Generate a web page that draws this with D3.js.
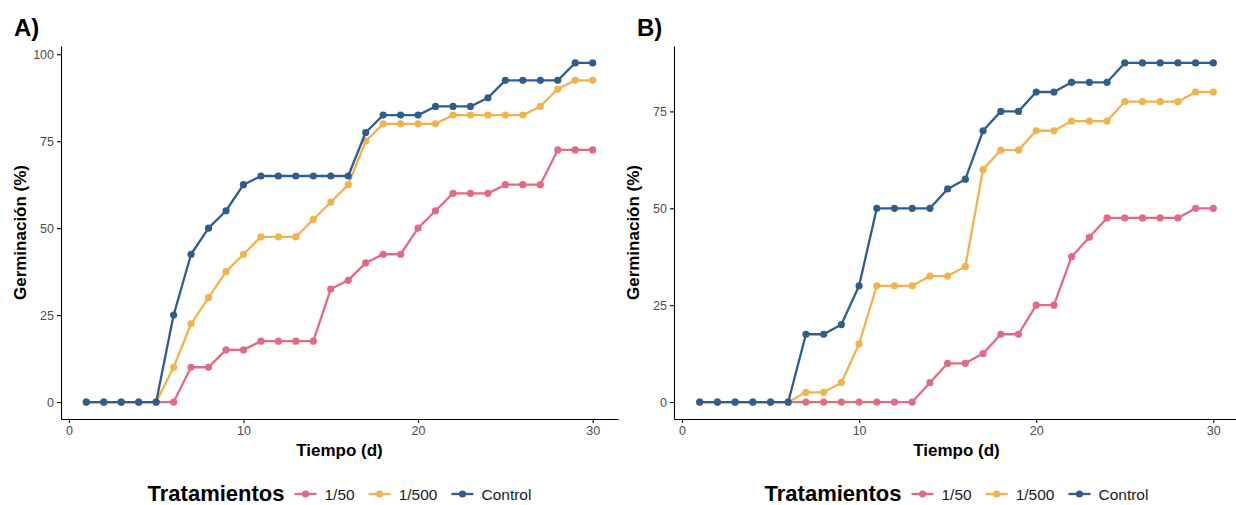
<!DOCTYPE html>
<html>
<head>
<meta charset="utf-8">
<script src="https://cdn.jsdelivr.net/npm/d3@7"></script>
<style>
    body { margin: 0; background: #fff; }
    svg { font-family: "Liberation Sans", Arial, sans-serif; }
    .axis path, .axis line { stroke: #000; stroke-width: 1.1; }
    .axis text { fill: #4d4d4d; font-size: 12.5px; }
</style>
</head>
<body>
<div id="chart"></div>
<script>

// Days and treatments
let days = d3.range(1, 31);
let treatments = ["1/50", "1/500", "Control"];
let colors = ["#e16a86", "#f0b34d", "#2f5d8c"];

// Panel A - germination (%)
let a50   = [0,0,0,0,0,0,10,10,15,15,17.5,17.5,17.5,17.5,32.5,35,40,42.5,42.5,50,55,60,60,60,62.5,62.5,62.5,72.5,72.5,72.5];
let a500  = [0,0,0,0,0,10,22.5,30,37.5,42.5,47.5,47.5,47.5,52.5,57.5,62.5,75,80,80,80,80,82.5,82.5,82.5,82.5,82.5,85,90,92.5,92.5];
let aCtrl = [0,0,0,0,0,25,42.5,50,55,62.5,65,65,65,65,65,65,77.5,82.5,82.5,82.5,85,85,85,87.5,92.5,92.5,92.5,92.5,97.5,97.5];

// Panel B - germination (%)
let b50   = [0,0,0,0,0,0,0,0,0,0,0,0,0,5,10,10,12.5,17.5,17.5,25,25,37.5,42.5,47.5,47.5,47.5,47.5,47.5,50,50];
let b500  = [0,0,0,0,0,0,2.5,2.5,5,15,30,30,30,32.5,32.5,35,60,65,65,70,70,72.5,72.5,72.5,77.5,77.5,77.5,77.5,80,80];
let bCtrl = [0,0,0,0,0,0,17.5,17.5,20,30,50,50,50,50,55,57.5,70,75,75,80,80,82.5,82.5,82.5,87.5,87.5,87.5,87.5,87.5,87.5];

let xTicks = [0, 10, 20, 30];
let yTicksA = [0, 25, 50, 75, 100];
let yTicksB = [0, 25, 50, 75];

let svg = d3.select("#chart").append("svg")
    .attr("width", 1236)
    .attr("height", 505);

class LineChart {

    constructor(_svg, _series, _config) {
        this.svg = _svg;
        this.series = _series;
        this.config = _config;
        this.initVis();
    }

    initVis() {
        let vis = this;
        let c = vis.config;

        // ggplot style expanded domains
        let maxY = d3.max(vis.series, s => d3.max(s));
        vis.x = d3.scaleLinear().domain([1 - 1.45, 30 + 1.45]).range([c.left, c.right]);
        vis.y = d3.scaleLinear().domain([-maxY * 0.05, maxY * 1.05]).range([c.bottom, c.top]);

        vis.g = vis.svg.append("g");

        vis.g.append("g")
            .attr("class", "axis")
            .attr("transform", "translate(0," + c.bottom + ")")
            .call(d3.axisBottom(vis.x).tickValues(xTicks).tickSize(4).tickSizeOuter(0).tickPadding(3));

        vis.g.append("g")
            .attr("class", "axis")
            .attr("transform", "translate(" + c.left + ",0)")
            .call(d3.axisLeft(vis.y).tickValues(c.yTicks).tickSize(4).tickSizeOuter(0).tickPadding(3));

        // Panel letter
        vis.g.append("text")
            .attr("x", c.letterX)
            .attr("y", 36)
            .attr("font-size", "24px")
            .attr("font-weight", "bold")
            .text(c.letter);

        // Axis titles
        vis.g.append("text")
            .attr("transform", "translate(" + (c.left - 35) + "," + ((c.top + c.bottom) / 2) + ") rotate(-90)")
            .attr("text-anchor", "middle")
            .attr("font-size", "17px")
            .attr("font-weight", "bold")
            .text("Germinación (%)");

        vis.g.append("text")
            .attr("x", (c.left + c.right) / 2)
            .attr("y", 456)
            .attr("text-anchor", "middle")
            .attr("font-size", "17px")
            .attr("font-weight", "bold")
            .text("Tiempo (d)");

        vis.updateVis();
        vis.drawLegend();
    }

    updateVis() {
        let vis = this;

        let line = d3.line()
            .x((d, i) => vis.x(days[i]))
            .y(d => vis.y(d));

        vis.series.forEach((s, k) => {
            vis.g.append("path")
                .datum(s)
                .attr("fill", "none")
                .attr("stroke", colors[k])
                .attr("stroke-width", 2.3)
                .attr("stroke-linejoin", "round")
                .attr("d", line);

            vis.g.selectAll(".pt" + k)
                .data(s)
                .enter()
                .append("circle")
                .attr("class", "pt" + k)
                .attr("cx", (d, i) => vis.x(days[i]))
                .attr("cy", d => vis.y(d))
                .attr("r", 3.6)
                .attr("fill", colors[k]);
        });
    }

    drawLegend() {
        let vis = this;
        let c = vis.config;
        let leg = vis.g.append("g");

        let title = leg.append("text")
            .attr("x", 0)
            .attr("y", 501)
            .attr("font-size", "22px")
            .attr("font-weight", "bold")
            .text("Tratamientos");

        let xPos = title.node().getComputedTextLength() + 10;

        treatments.forEach((t, k) => {
            leg.append("line")
                .attr("x1", xPos).attr("x2", xPos + 22)
                .attr("y1", 494).attr("y2", 494)
                .attr("stroke", colors[k])
                .attr("stroke-width", 2.3);
            leg.append("circle")
                .attr("cx", xPos + 11)
                .attr("cy", 494)
                .attr("r", 3.6)
                .attr("fill", colors[k]);
            let label = leg.append("text")
                .attr("x", xPos + 30)
                .attr("y", 500)
                .attr("font-size", "15.5px")
                .attr("fill", "#1a1a1a")
                .text(t);
            xPos += 30 + label.node().getComputedTextLength() + 14;
        });

        let w = xPos - 14;
        leg.attr("transform", "translate(" + ((c.left + c.right) / 2 - w / 2) + ",0)");
    }
}

new LineChart(svg, [a50, a500, aCtrl], {
    left: 61, right: 618, top: 46, bottom: 419,
    yTicks: yTicksA, letter: "A)", letterX: 14
});

new LineChart(svg, [b50, b500, bCtrl], {
    left: 674, right: 1239, top: 46, bottom: 419,
    yTicks: yTicksB, letter: "B)", letterX: 637
});

</script>
</body>
</html>
